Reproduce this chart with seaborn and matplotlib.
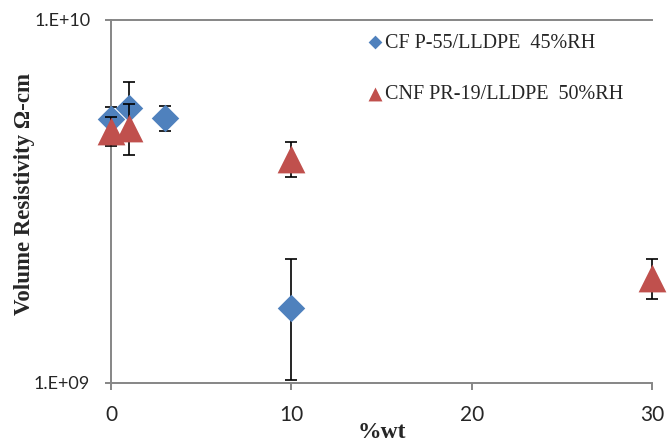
import numpy as np
import pandas as pd
import seaborn as sns
import matplotlib.pyplot as plt

# data
cf_wt = [0, 1, 3, 10]
cf_res = [5.33e9, 5.72e9, 5.37e9, 1.61e9]
cf_err = [0.42e9, 1.03e9, 0.43e9, 0.59e9]

cnf_wt = [0, 1, 10, 30]
cnf_res = [4.95e9, 5.05e9, 4.15e9, 1.95e9]
cnf_err = [0.45e9, 0.80e9, 0.46e9, 0.25e9]

cf_label = "CF P-55/LLDPE  45%RH"
cnf_label = "CNF PR-19/LLDPE  50%RH"

blue = "#4F81BD"
red = "#C0504D"
axis_grey = "#868686"

sns.set_style("white")
plt.rcParams['font.family'] = ['Lato', 'DejaVu Sans']

df_cf = pd.DataFrame({'wt': cf_wt, 'res': cf_res})
df_cnf = pd.DataFrame({'wt': cnf_wt, 'res': cnf_res})

fig = plt.figure(figsize=(6.68, 4.47), dpi=100)
ax = fig.add_axes([111/668, 1 - 382.7/447, (652 - 111)/668, (382.7 - 20)/447])

# blue series
ax.errorbar(cf_wt, cf_res, yerr=cf_err, fmt='none', ecolor='black',
            elinewidth=1.2, capsize=4, capthick=1.2, zorder=2, clip_on=False)
sns.scatterplot(data=df_cf, x='wt', y='res', marker='D', s=14**2, color=blue,
                linewidth=0, ax=ax, label=cf_label, zorder=3, clip_on=False)

# red series
ax.errorbar(cnf_wt, cnf_res, yerr=cnf_err, fmt='none', ecolor='black',
            elinewidth=1.2, capsize=4, capthick=1.2, zorder=4, clip_on=False)
sns.scatterplot(data=df_cnf, x='wt', y='res', marker='^', s=20**2, color=red,
                linewidth=0, ax=ax, label=cnf_label, zorder=5, clip_on=False)

ax.set_yscale('log')
ax.set_ylim(1e9, 1e10)
ax.set_xlim(0, 30)
ax.set_xticks([0, 10, 20, 30])
ax.set_yticks([1e9, 1e10])
ax.set_yticklabels(["1.E+09", "1.E+10"])
ax.yaxis.set_minor_locator(plt.NullLocator())

for side in ['left', 'bottom', 'top']:
    ax.spines[side].set_color(axis_grey)
    ax.spines[side].set_linewidth(1.4)
ax.spines['right'].set_visible(False)

ax.tick_params(axis='x', which='major', direction='out', length=5, width=1.4,
               color=axis_grey, labelsize=15, pad=11, bottom=True)
ax.tick_params(axis='y', which='major', direction='out', length=4, width=1.4,
               color=axis_grey, labelsize=13, pad=11, left=True)

ax.set_xlabel("%wt", fontsize=17, fontweight='bold', family='Liberation Serif')
ax.xaxis.set_label_coords(0.5, -0.108)
ax.set_ylabel("Volume Resistivity Ω-cm", fontsize=16.5, fontweight='bold',
              family='Liberation Serif')
ax.yaxis.set_label_coords(-0.14, 0.52)

leg = ax.legend(loc='upper left', bbox_to_anchor=(0.46, 0.985), frameon=False,
                markerscale=0.5, handletextpad=0.15, handlelength=0.7,
                labelspacing=1.6, borderaxespad=0,
                prop={'family': 'Liberation Serif', 'size': 14.5})

fig.savefig("out.png", dpi=100)
